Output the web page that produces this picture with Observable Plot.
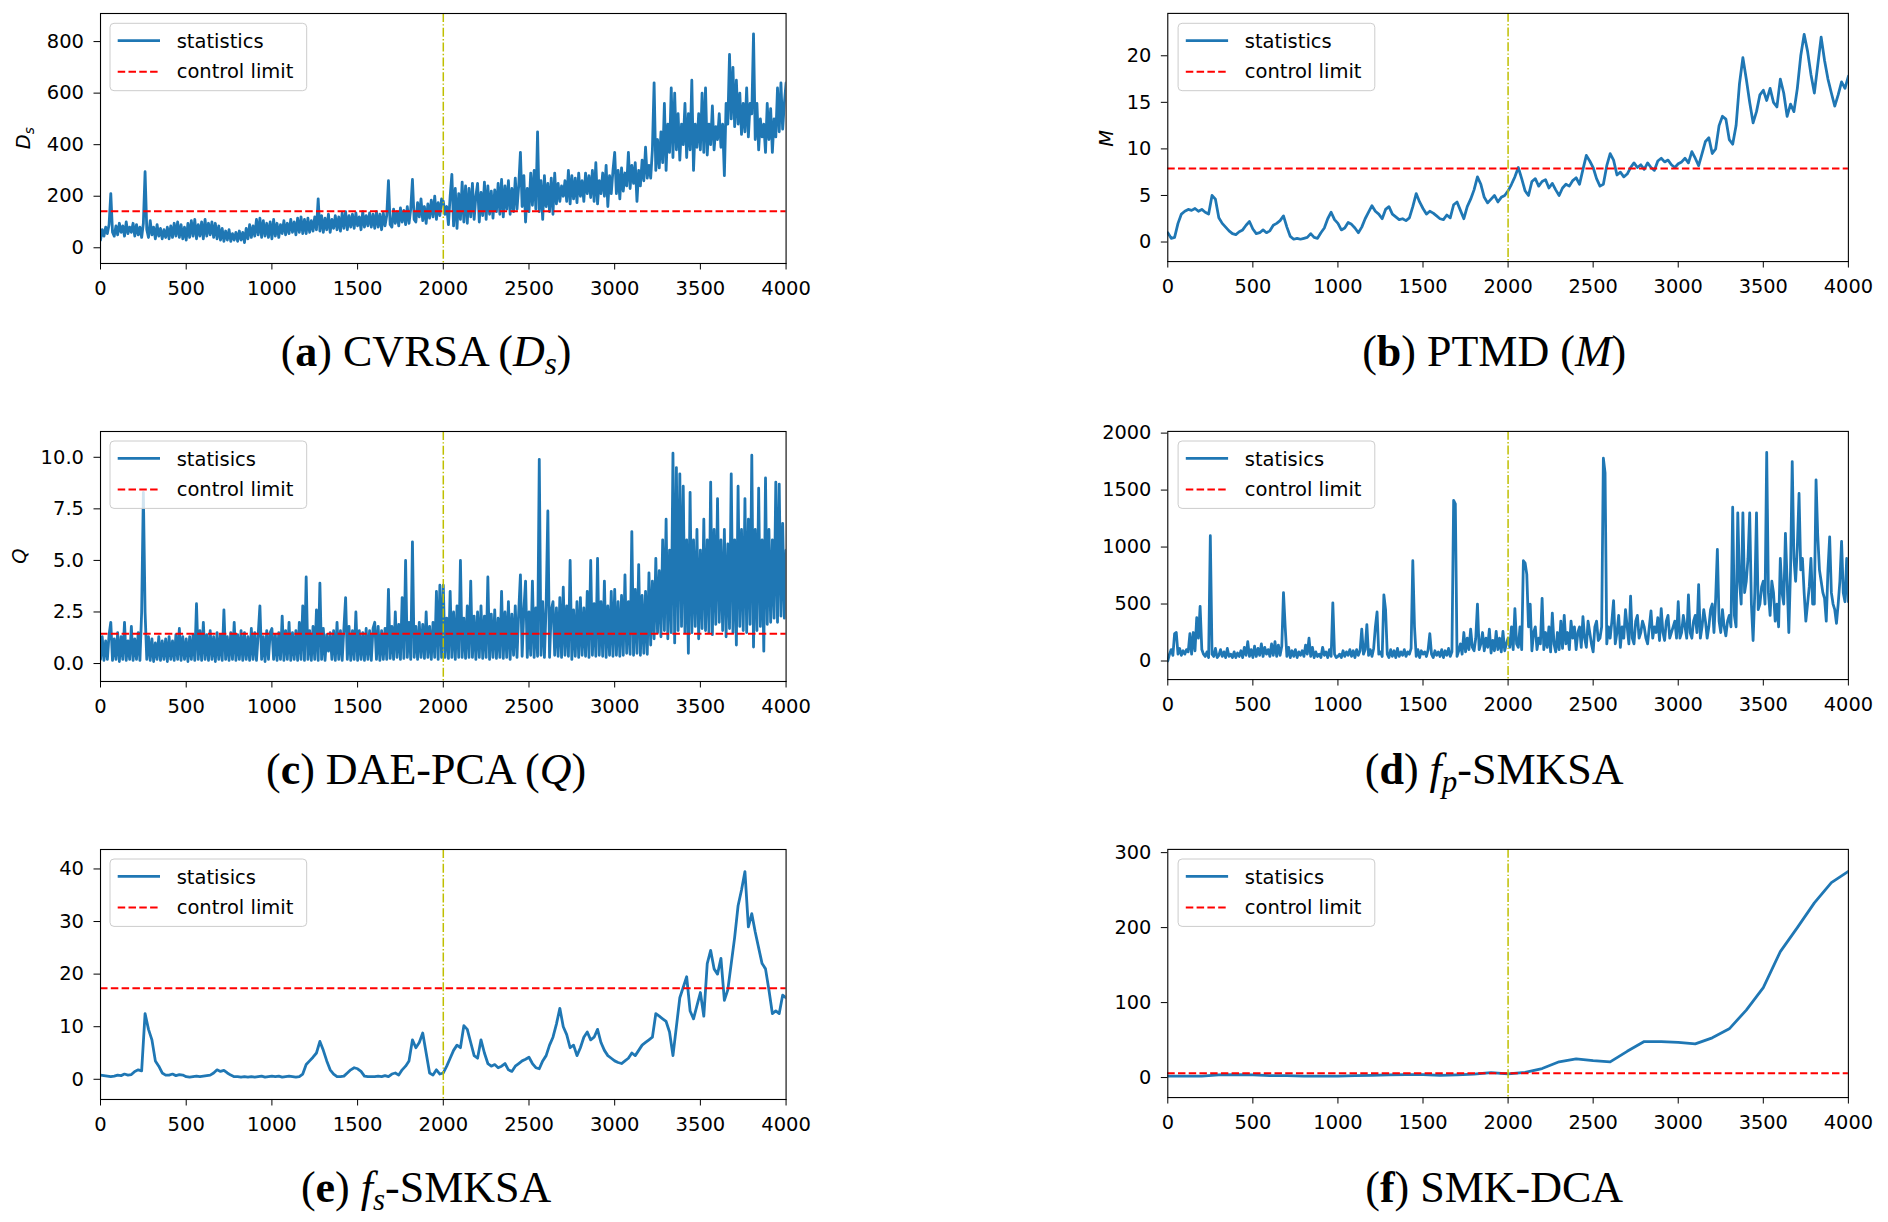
<!DOCTYPE html>
<html><head><meta charset="utf-8">
<script src="https://cdn.jsdelivr.net/npm/d3@7"></script>
<script src="https://cdn.jsdelivr.net/npm/@observablehq/plot@0.6"></script>
<style>
html,body{margin:0;padding:0;background:#fff;}
#fig{position:relative;width:1888px;height:1222px;overflow:hidden;background:#fff;}
.panel{position:absolute;}
#overlay{position:absolute;left:0;top:0;pointer-events:none;}
</style></head><body><div id="fig"></div><script>
const xTicks = [0, 500, 1000, 1500, 2000, 2500, 3000, 3500, 4000];
const faultStart = 2000;

// (a) CVRSA Ds — one value every 10 samples
const dsVals = [
 30, 70, 45, 80, 55, 90, 210, 60, 45, 85, 50, 95, 60, 85, 45, 100, 55, 80, 60, 95,
 45, 90, 50, 80, 40, 95, 295, 70, 40, 105, 50, 80, 35, 90, 45, 75, 35, 70, 40, 80,
 35, 85, 40, 95, 45, 100, 40, 90, 35, 80, 30, 95, 40, 105, 45, 110, 35, 90, 45, 100,
 35, 110, 45, 95, 50, 100, 40, 95, 35, 85, 30, 75, 25, 65, 30, 70, 25, 55, 30, 60,
 25, 65, 30, 60, 20, 75, 35, 90, 40, 85, 45, 110, 50, 115, 40, 105, 45, 95, 40, 100,
 35, 110, 45, 95, 40, 90, 55, 105, 50, 95, 55, 110, 60, 100, 50, 115, 60, 120, 55, 110,
 55, 115, 60, 105, 65, 120, 70, 190, 65, 125, 60, 115, 70, 130, 60, 110, 75, 125, 70, 120,
 65, 135, 75, 140, 70, 125, 80, 130, 75, 135, 85, 120, 70, 140, 80, 125, 85, 135, 80, 130,
 75, 140, 80, 130, 70, 135, 85, 125, 260, 90, 80, 150, 95, 140, 85, 155, 100, 145, 90, 160,
 95, 150, 265, 110, 100, 175, 120, 190, 105, 160, 95, 170, 115, 185, 120, 200, 110, 175, 125, 190,
 180, 130, 160, 90, 200, 285, 85, 230, 75, 210, 110, 255, 100, 240, 95, 230, 120, 250, 110, 200,
 250, 100, 215, 125, 255, 110, 240, 130, 220, 115, 225, 140, 250, 130, 265, 120, 240, 150, 260, 130,
 230, 140, 270, 150, 240, 370, 160, 280, 100, 230, 140, 290, 165, 300, 150, 450, 140, 260, 110, 280,
 160, 250, 140, 270, 130, 290, 170, 250, 180, 240, 200, 260, 180, 300, 170, 280, 190, 270, 175, 290,
 200, 260, 180, 290, 210, 280, 195, 300, 180, 330, 170, 260, 210, 290, 200, 320, 160, 280, 210, 300,
 370, 210, 300, 190, 310, 220, 290, 240, 370, 230, 320, 250, 330, 180, 300, 240, 340, 260, 390, 270,
 320, 270, 380, 640, 300, 420, 310, 450, 330, 560, 300, 480, 370, 620, 350, 600, 380, 520, 340, 480,
 400, 560, 350, 520, 380, 650, 300, 480, 390, 520, 380, 600, 370, 620, 360, 480, 400, 550, 380, 470,
 420, 520, 390, 480, 280, 560, 480, 750, 500, 700, 470, 650, 480, 600, 440, 560, 450, 620, 430, 560,
 520, 830, 420, 560, 380, 500, 430, 480, 370, 560, 420, 540, 370, 500, 430, 620, 450, 640, 460, 560,
 640];

// (b) PTMD M — one value every 20 samples
const mVals = [1.0, 0.4, 0.5, 2.0, 3.0, 3.3, 3.5, 3.4, 3.6, 3.3,
 3.5, 3.2, 3.0, 5.0, 4.6, 2.6, 2.0, 1.6, 1.2, 0.9,
 0.8, 1.1, 1.3, 1.8, 2.2, 1.4, 0.9, 1.0, 1.3, 1.0,
 1.2, 1.8, 2.0, 2.3, 2.8, 1.6, 0.6, 0.3, 0.4, 0.3,
 0.4, 0.5, 0.9, 0.5, 0.4, 1.0, 1.5, 2.5, 3.2, 2.4,
 2.0, 1.3, 1.5, 2.1, 1.9, 1.5, 1.0, 1.6, 2.5, 3.2,
 3.9, 3.3, 3.0, 2.5, 3.5, 3.8, 3.0, 2.7, 2.4, 2.5,
 2.3, 2.6, 3.8, 5.2, 4.3, 3.6, 3.0, 3.3, 3.1, 2.8,
 2.5, 2.4, 2.9, 2.6, 4.0, 4.3, 3.4, 2.5, 3.8, 4.6,
 5.6, 7.0, 6.2, 4.8, 4.2, 4.6, 5.0, 4.3, 4.8, 5.0,
 5.5, 6.2, 7.0, 8.0, 6.8, 5.5, 5.0, 6.5, 6.8, 6.0,
 6.5, 6.7, 5.8, 6.3, 5.6, 5.0, 5.8, 6.2, 6.0, 6.6,
 6.9, 6.2, 7.8, 9.3, 8.7, 8.0, 6.8, 6.0, 6.2, 8.2,
 9.5, 8.8, 7.2, 7.5, 7.0, 7.3, 8.0, 8.5, 8.0, 8.3,
 7.8, 8.5, 8.0, 7.7, 8.7, 9.0, 8.6, 8.8, 8.3, 8.0,
 8.4, 8.6, 9.0, 8.5, 9.7, 9.0, 8.2, 9.5, 10.8, 11.2,
 9.5, 10.0, 12.5, 13.5, 13.2, 11.0, 10.5, 12.5, 17.0, 19.8,
 17.5, 15.0, 12.8, 14.0, 15.8, 16.3, 15.2, 16.5, 15.0, 14.5,
 17.5, 16.0, 13.5, 14.8, 14.0, 16.5, 20.0, 22.3, 20.5, 18.0,
 16.0, 19.0, 22.0, 19.5, 17.5, 16.0, 14.6, 15.8, 17.2, 16.5,
 17.8];

// (c) DAE-PCA Q — one value every 10 samples
const qVals = [
 0.2, 1.3, 0.15, 1.1, 0.2, 1.4, 2.0, 0.15, 1.2, 0.2, 1.5, 0.1, 1.3, 0.2, 2.0, 0.15, 1.1, 0.2, 1.8, 0.15,
 1.2, 0.2, 1.5, 0.15, 2.5, 8.3, 2.5, 0.2, 1.3, 0.15, 1.2, 0.1, 1.0, 0.2, 1.3, 0.15, 1.1, 0.2, 1.2, 0.1,
 1.3, 0.2, 1.1, 0.15, 1.4, 0.2, 1.7, 0.15, 1.3, 0.2, 1.2, 0.1, 1.3, 0.2, 1.4, 0.15, 2.9, 0.2, 1.6, 0.15,
 2.0, 0.2, 1.4, 0.15, 1.6, 0.2, 1.3, 0.1, 1.5, 0.2, 1.4, 0.15, 2.6, 0.2, 1.3, 0.15, 1.5, 0.2, 2.0, 0.15,
 1.4, 0.2, 1.6, 0.15, 1.5, 0.2, 1.3, 0.15, 1.7, 0.2, 1.5, 0.15, 1.4, 2.8, 0.2, 1.3, 0.1, 1.6, 0.2, 1.5,
 1.7, 0.2, 1.4, 0.15, 1.5, 0.2, 2.3, 0.15, 1.6, 0.2, 2.0, 0.15, 1.5, 0.2, 1.6, 0.15, 2.0, 0.2, 2.8, 0.15,
 4.2, 0.2, 1.6, 0.15, 1.8, 0.2, 2.6, 0.15, 3.9, 0.2, 1.7, 0.15, 1.4, 0.6, 1.5, 0.2, 1.6, 0.15, 2.0, 0.2,
 1.6, 0.15, 1.7, 3.2, 0.2, 1.8, 0.15, 1.6, 0.2, 2.5, 0.15, 1.6, 0.2, 1.5, 0.15, 1.7, 0.2, 1.6, 0.15, 1.7,
 2.0, 0.2, 1.8, 0.15, 1.6, 0.2, 1.7, 0.2, 3.6, 0.25, 1.8, 0.2, 2.5, 0.3, 1.9, 0.2, 3.2, 0.25, 5.0, 0.3,
 2.0, 0.2, 5.9, 0.3, 1.8, 0.2, 2.0, 0.3, 1.9, 0.25, 2.5, 0.3, 1.8, 0.2, 2.0, 0.3, 3.5, 0.2, 3.8, 0.3,
 3.8, 0.3, 2.2, 0.25, 3.5, 0.3, 2.5, 0.2, 2.8, 0.3, 5.0, 0.3, 2.2, 0.25, 2.8, 0.3, 4.0, 0.3, 2.3, 0.2,
 2.5, 0.3, 2.8, 0.25, 2.3, 0.3, 4.2, 0.2, 2.4, 0.3, 2.6, 0.25, 2.2, 0.3, 3.5, 0.25, 2.5, 0.3, 3.0, 0.2,
 2.4, 0.4, 2.8, 0.3, 2.5, 4.3, 0.35, 2.6, 4.0, 0.3, 2.5, 0.4, 4.0, 0.3, 2.7, 0.35, 9.9, 0.4, 3.0, 0.3,
 2.8, 7.4, 0.3, 2.6, 3.0, 0.4, 2.7, 0.35, 3.2, 0.3, 3.7, 0.4, 2.8, 0.35, 5.0, 0.2, 2.6, 0.35, 3.0, 0.3,
 3.2, 0.4, 2.7, 0.35, 3.5, 0.3, 5.0, 0.4, 2.9, 0.35, 5.1, 0.4, 3.0, 0.35, 4.0, 0.3, 2.8, 0.4, 3.5, 0.35,
 3.6, 0.4, 3.0, 0.35, 3.3, 0.4, 4.3, 0.5, 3.0, 0.45, 6.4, 0.4, 3.6, 0.5, 4.8, 0.4, 3.3, 0.5, 3.5, 0.45,
 4.4, 0.9, 4.0, 1.2, 5.1, 1.5, 4.5, 1.3, 6.0, 1.6, 7.0, 1.2, 5.5, 1.5, 10.2, 1.0, 9.5, 1.6, 9.2, 1.8,
 8.6, 1.5, 6.0, 0.5, 8.3, 1.5, 6.0, 1.8, 6.5, 1.2, 5.5, 1.7, 7.0, 1.6, 6.0, 1.5, 8.8, 1.4, 6.5, 1.9,
 8.0, 2.0, 6.0, 1.6, 6.5, 1.3, 5.8, 1.7, 9.2, 1.5, 6.0, 0.9, 8.6, 1.8, 6.5, 1.6, 8.0, 1.5, 7.0, 1.9,
 10.1, 0.8, 6.5, 1.6, 8.5, 1.8, 6.0, 0.6, 9.0, 1.9, 6.5, 2.0, 6.0, 2.2, 8.8, 2.0, 8.7, 2.3, 6.8, 2.2,
 5.5];

// (d) fp-SMKSA — one value every 10 samples
const fpVals = [
 0, 60, 100, 50, 240, 250, 60, 110, 50, 90, 60, 100, 80, 240, 60, 250, 90, 380, 200, 480,
 100, 60, 40, 80, 30, 1100, 60, 40, 110, 30, 50, 100, 40, 80, 30, 110, 40, 60, 30, 80,
 30, 70, 40, 90, 30, 120, 50, 170, 40, 100, 30, 130, 40, 110, 50, 150, 40, 120, 60, 100,
 40, 150, 50, 170, 40, 140, 50, 130, 600, 300, 40, 120, 30, 90, 40, 100, 30, 80, 50, 90,
 40, 140, 60, 200, 40, 120, 30, 80, 40, 60, 30, 120, 50, 80, 30, 100, 40, 510, 60, 30,
 40, 60, 30, 90, 40, 80, 50, 100, 40, 90, 30, 100, 50, 90, 280, 60, 100, 320, 50, 100,
 40, 110, 300, 430, 60, 80, 40, 580, 450, 60, 30, 100, 40, 90, 30, 110, 40, 80, 50, 100,
 40, 80, 60, 110, 880, 300, 40, 100, 30, 90, 60, 80, 40, 100, 240, 60, 30, 90, 50, 80,
 40, 100, 30, 90, 50, 110, 40, 80, 1410, 1380, 40, 90, 150, 60, 250, 80, 200, 100, 280, 120,
 90, 200, 500, 100, 150, 250, 90, 200, 120, 280, 70, 180, 90, 260, 100, 200, 80, 260, 90, 150,
 200, 120, 300, 100, 460, 150, 120, 300, 100, 880, 860, 760, 300, 500, 90, 250, 300, 100, 200, 150,
 550, 100, 250, 120, 300, 80, 420, 150, 80, 250, 100, 350, 110, 400, 150, 250, 100, 350, 200, 300,
 100, 250, 300, 120, 390, 200, 120, 350, 250, 150, 80, 300, 350, 180, 200, 300, 1780, 1650, 150, 300,
 200, 350, 530, 150, 250, 400, 120, 300, 200, 450, 300, 150, 570, 200, 150, 350, 400, 200, 250, 350,
 300, 200, 150, 300, 440, 200, 300, 250, 380, 180, 460, 250, 180, 350, 400, 200, 250, 300, 350, 200,
 520, 200, 250, 400, 300, 200, 580, 250, 200, 350, 400, 250, 670, 200, 300, 450, 350, 200, 300, 450,
 500, 250, 550, 980, 350, 250, 450, 300, 220, 350, 400, 300, 1350, 400, 300, 1300, 700, 500, 1300, 600,
 700, 900, 1300, 500, 180, 600, 1300, 450, 500, 650, 700, 500, 1830, 600, 400, 700, 600, 350, 500, 300,
 900, 600, 500, 1120, 700, 250, 800, 1750, 900, 700, 1000, 1470, 800, 900, 600, 350, 500, 650, 900, 500,
 500, 1590, 1100, 800, 700, 600, 550, 350, 800, 1090, 600, 500, 450, 330, 500, 700, 1050, 600, 520, 900,
 520];

// (e) fs-SMKSA — one value every 20 samples
const fsVals = [0.8, 0.7, 0.6, 0.5, 0.6, 0.8, 0.7, 1.0, 0.8, 0.9,
 1.5, 1.8, 1.6, 12.5, 9.5, 7.5, 3.5, 2.5, 1.2, 0.8,
 0.8, 1.0, 0.7, 0.9, 0.8, 0.5, 0.4, 0.5, 0.6, 0.5,
 0.6, 0.7, 0.8, 1.2, 1.8, 1.5, 1.7, 1.2, 0.8, 0.5,
 0.5, 0.4, 0.5, 0.4, 0.5, 0.4, 0.5, 0.6, 0.4, 0.5,
 0.6, 0.5, 0.6, 0.4, 0.5, 0.6, 0.5, 0.4, 0.5, 1.0,
 2.8, 3.5, 4.2, 5.0, 7.2, 5.5, 3.5, 1.8, 1.0, 0.5,
 0.5, 0.6, 1.2, 1.8, 2.2, 2.0, 1.5, 0.6, 0.5, 0.5,
 0.5, 0.6, 0.5, 0.7, 0.5, 1.0, 1.2, 0.8, 1.8, 2.5,
 3.5, 7.5, 6.0, 7.0, 8.8, 5.0, 1.2, 0.8, 1.8, 1.0,
 1.2, 2.5, 4.0, 5.5, 6.5, 6.0, 10.2, 9.5, 7.0, 4.5,
 4.0, 7.5, 5.0, 3.0, 2.5, 2.8, 2.2, 2.5, 3.0, 1.8,
 1.5, 2.5, 3.0, 3.5, 3.8, 4.2, 3.0, 2.2, 2.0, 3.5,
 4.5, 6.5, 8.0, 10.5, 13.5, 10.0, 8.5, 6.0, 6.5, 4.5,
 6.0, 8.0, 9.0, 7.5, 8.0, 9.5, 7.0, 5.5, 4.5, 4.0,
 3.5, 3.2, 3.0, 3.5, 4.0, 5.0, 4.5, 5.5, 6.5, 7.0,
 7.5, 8.0, 12.5, 12.0, 11.5, 11.0, 9.0, 4.5, 10.0, 15.5,
 17.5, 19.5, 13.0, 11.5, 14.0, 16.5, 12.0, 22.0, 24.5, 21.0,
 20.0, 23.0, 15.0, 17.0, 22.0, 27.0, 33.0, 36.0, 39.5, 29.0,
 31.5, 28.0, 25.0, 22.0, 21.0, 17.0, 12.5, 13.0, 12.5, 16.0,
 15.5];

// (f) SMK-DCA — one value every 100 samples
const dcaVals = [2, 2, 2, 3.5, 4, 3.5, 2.5, 2.5, 2, 2,
 2, 2.5, 3, 3.5, 4, 4, 3, 3.5, 4.5, 6.5,
 5, 7, 12, 21, 25, 22.5, 21, 35, 48, 48,
 47, 45, 53, 65, 90, 120, 168, 200, 233, 260,
 275];

const sampleSteps = [10, 20, 10, 10, 20, 100];
const controlLimits = [142, 7.9, 1.45, null, 17.3, 5.7];
const yDomains = [[-61, 909], [-2.1, 24.55], [-0.87, 11.25], [-163, 2015], [-3.84, 43.7], [-26.7, 304.3]];
const yTicks = [[0, 200, 400, 600, 800], [0, 5, 10, 15, 20], [0, 2.5, 5, 7.5, 10],
  [0, 500, 1000, 1500, 2000], [0, 10, 20, 30, 40], [0, 100, 200, 300]];
const legendStat = ["statistics", "statistics", "statisics", "statisics", "statisics", "statisics"];
const legendLimit = "control limit";
const series = [dsVals, mVals, qVals, fpVals, fsVals, dcaVals];
const captions = [
  [["(", ""], ["a", "b"], [") CVRSA (", ""], ["D", "i"], ["s", "sub"], [")", "unsub"]],
  [["(", ""], ["b", "b"], [") PTMD (", ""], ["M", "i"], [")", ""]],
  [["(", ""], ["c", "b"], [") DAE-PCA (", ""], ["Q", "i"], [")", ""]],
  [["(", ""], ["d", "b"], [") ", ""], ["f", "i"], ["p", "sub"], ["-SMKSA", "unsub"]],
  [["(", ""], ["e", "b"], [") ", ""], ["f", "i"], ["s", "sub"], ["-SMKSA", "unsub"]],
  [["(", ""], ["f", "b"], [") SMK-DCA", ""]]
];
const yLabels = [[["D", "i"], ["s", "sub"]], [["M", "i"]], [["Q", "i"]], null, null, null];

// ---- layout ----
const colLeft = [100.3, 1168.4];
const rowTop = [13.3, 431, 849];
const axW = 685.6, axH = 250;
const mL = 100, mT = 13, mR = 40, mB = 45;
const BLUE = "#1f77b4";
const LW = 2.8;

const fig = document.getElementById("fig");

series.forEach((vals, k) => {
  const col = k % 2, row = Math.floor(k / 2);
  const step = sampleSteps[k];
  const marks = [
    Plot.line(vals, {x: (d, i) => i * step, y: d => d, stroke: BLUE, strokeWidth: LW, clip: true}),
  ];
  if (controlLimits[k] != null) marks.push(Plot.ruleY([controlLimits[k]], {stroke: "#ff0000", strokeWidth: 2, strokeDasharray: "7.5,3.3"}));
  marks.push(Plot.ruleX([faultStart], {stroke: "#bfbf00", strokeWidth: 1.5, strokeDasharray: "9,2.2,1.4,2.2"}));
  marks.push(Plot.axisX({ticks: xTicks, tickSize: 6.5, tickPadding: 11, tickFormat: d => String(d), label: null}));
  marks.push(Plot.axisY({ticks: yTicks[k], tickSize: 6.5, tickPadding: 10,
    tickFormat: k === 2 ? (d => d.toFixed(1)) : (d => String(d)), label: null}));
  marks.push(Plot.frame({stroke: "#000", strokeWidth: 1.1}));
  const svg = Plot.plot({
    width: mL + axW + mR, height: mT + axH + mB,
    marginLeft: mL, marginRight: mR, marginTop: mT, marginBottom: mB,
    style: {fontFamily: "DejaVu Sans", fontSize: "19.5px", color: "#000", background: "transparent", overflow: "visible"},
    x: {domain: [0, 4000]},
    y: {domain: yDomains[k]},
    marks
  });
  const div = document.createElement("div");
  div.className = "panel";
  div.style.left = (colLeft[col] - mL) + "px";
  div.style.top = (rowTop[row] - mT) + "px";
  div.appendChild(svg);
  fig.appendChild(div);
});

// ---- overlay: legends, y labels, captions ----
const NS = "http://www.w3.org/2000/svg";
const ov = document.createElementNS(NS, "svg");
ov.setAttribute("id", "overlay");
ov.setAttribute("width", 1888);
ov.setAttribute("height", 1222);
fig.appendChild(ov);
function el(name, attrs, parent) {
  const e = document.createElementNS(NS, name);
  for (const a in attrs) e.setAttribute(a, attrs[a]);
  (parent || ov).appendChild(e);
  return e;
}
function richText(t, segs, subSize, subShift) {
  segs.forEach(([s, st]) => {
    const ts = el("tspan", {}, t);
    ts.textContent = s;
    if (st === "b") ts.setAttribute("font-weight", "bold");
    if (st === "i") ts.setAttribute("font-style", "italic");
    if (st === "sub") { ts.setAttribute("font-style", "italic"); ts.setAttribute("font-size", subSize); ts.setAttribute("dy", subShift); }
    if (st === "unsub") ts.setAttribute("dy", -subShift);
  });
}

series.forEach((vals, k) => {
  const col = k % 2, row = Math.floor(k / 2);
  const L = colLeft[col], T = rowTop[row];
  // legend
  const bx = L + 9.7, by = T + 10;
  el("rect", {x: bx, y: by, width: 196.7, height: 67.4, rx: 4, fill: "#fff", "fill-opacity": 0.8, stroke: "#cccccc", "stroke-width": 1});
  el("line", {x1: bx + 7.7, x2: bx + 50, y1: by + 17.4, y2: by + 17.4, stroke: BLUE, "stroke-width": LW});
  el("line", {x1: bx + 7.7, x2: bx + 50, y1: by + 48.4, y2: by + 48.4, stroke: "#ff0000", "stroke-width": 2, "stroke-dasharray": "7.5,3.3"});
  const t1 = el("text", {x: bx + 66.7, y: by + 25, "font-family": "DejaVu Sans", "font-size": 19.5, fill: "#000"});
  t1.textContent = legendStat[k];
  const t2 = el("text", {x: bx + 66.7, y: by + 55, "font-family": "DejaVu Sans", "font-size": 19.5, fill: "#000"});
  t2.textContent = legendLimit;
  // y label
  if (yLabels[k]) {
    const lx = col === 0 ? (k === 0 ? 30 : 26) : L - 55.5;
    const ly = T + axH / 2;
    const t = el("text", {x: 0, y: 0, transform: `translate(${lx},${ly}) rotate(-90)`, "text-anchor": "middle",
      "font-family": "DejaVu Sans", "font-size": 19.5, fill: "#000"});
    richText(t, yLabels[k], 13.5, 4);
  }
  // caption
  const cx = L + axW / 2 - 17;
  const cy = [366, 784, 1202][row];
  const c = el("text", {x: cx, y: cy, "text-anchor": "middle", "font-family": "Liberation Serif", "font-size": 44, fill: "#000"});
  richText(c, captions[k], 31, 8);
});
</script></body></html>
